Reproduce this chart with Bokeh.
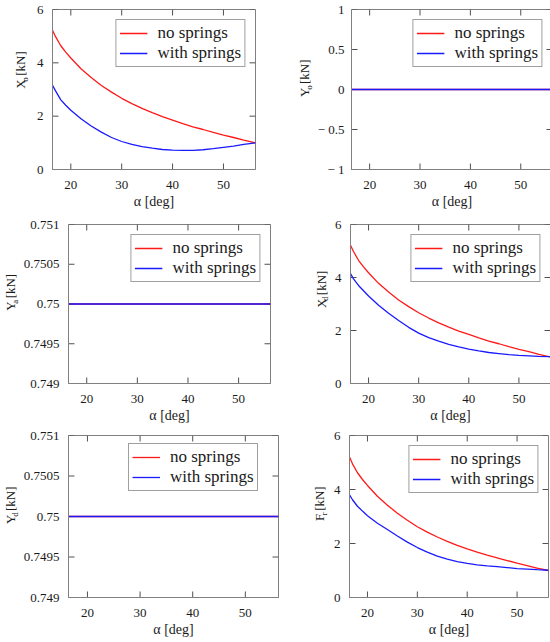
import math
from bokeh.plotting import figure
from bokeh.layouts import row, column
from bokeh.models import Range1d, FixedTicker, Label, Legend, LegendItem
from bokeh.embed import file_html
from bokeh.resources import INLINE

# ---------------- data ----------------
alpha = [16.4, 17, 18, 19, 20, 22, 24, 26, 28, 30, 32, 34, 36, 38, 40, 42, 44, 46, 48, 50, 52, 54, 56.3]
alpha_flat = [16.4, 56.3]

xo_no = [5.22, 4.98, 4.65, 4.40, 4.18, 3.78, 3.45, 3.15, 2.90, 2.67, 2.47, 2.29, 2.13, 1.98, 1.85, 1.72, 1.60, 1.50, 1.39, 1.29, 1.20, 1.10, 1.00]
xo_with = [3.16, 2.95, 2.62, 2.41, 2.22, 1.90, 1.63, 1.40, 1.20, 1.05, 0.94, 0.86, 0.80, 0.75, 0.73, 0.72, 0.72, 0.74, 0.78, 0.83, 0.88, 0.94, 1.00]

yo_no = [0.0, 0.0]
yo_with = [0.0, 0.0]

ya_no = [0.75, 0.75]
ya_with = [0.75, 0.75]

xd_no = [5.22, 4.98, 4.65, 4.40, 4.18, 3.78, 3.45, 3.15, 2.90, 2.67, 2.47, 2.29, 2.13, 1.98, 1.85, 1.72, 1.60, 1.50, 1.39, 1.29, 1.20, 1.10, 1.00]
xd_with = [4.15, 3.95, 3.70, 3.50, 3.30, 2.95, 2.65, 2.38, 2.12, 1.90, 1.73, 1.60, 1.48, 1.38, 1.30, 1.23, 1.17, 1.13, 1.09, 1.06, 1.04, 1.02, 1.01]

yd_no = [0.75, 0.75]
yd_with = [0.75, 0.75]

fr_no = [5.20, 4.95, 4.62, 4.37, 4.15, 3.75, 3.42, 3.12, 2.86, 2.62, 2.42, 2.24, 2.08, 1.93, 1.80, 1.68, 1.57, 1.47, 1.37, 1.27, 1.18, 1.09, 1.00]
fr_with = [3.80, 3.62, 3.38, 3.20, 3.03, 2.75, 2.52, 2.28, 2.05, 1.85, 1.68, 1.53, 1.42, 1.33, 1.26, 1.21, 1.17, 1.14, 1.11, 1.07, 1.05, 1.03, 1.01]

x_ticks = [20, 30, 40, 50]
force_ticks = [0, 2, 4, 6]
yo_ticks = [-1, -0.5, 0, 0.5, 1]
yo_tick_labels = ["\u2212 1", "\u2212 0.5", "0", "0.5", "1"]
ya_ticks = [0.749, 0.7495, 0.75, 0.7505, 0.751]
ya_tick_labels = ["0.749", "0.7495", "0.75", "0.7505", "0.751"]

series_names = ["no springs", "with springs"]
x_label = "\u03b1 [deg]"
unit_label = "[kN]"

# ---------------- style ----------------
FONT = "Liberation Serif"
GRAY = "#808080"
TICK = "#505050"
TXT = "#1a1a1a"
RED = "#ff1a1a"
BLUE = "#1a1aff"
X_RANGE = (16.4, 56.3)


def style_axis(ax, ticks, standoff):
    ax.ticker = FixedTicker(ticks=ticks)
    ax.axis_line_color = GRAY
    ax.major_tick_line_color = None
    ax.minor_tick_line_color = None
    ax.major_label_text_font = FONT
    ax.major_label_text_font_size = "13px"
    ax.major_label_text_color = TXT
    ax.major_label_standoff = standoff


def add_inner_ticks(p, yr, yticks):
    # short inward tick marks on all four frame edges (length in screen px)
    nx, ny = len(x_ticks), len(yticks)
    kw = dict(length=6, length_units="screen", line_color=TICK, line_width=1)
    p.ray(x=x_ticks, y=[yr[0]] * nx, angle=math.pi / 2, **kw)
    p.ray(x=x_ticks, y=[yr[1]] * nx, angle=-math.pi / 2, **kw)
    p.ray(x=[X_RANGE[0]] * ny, y=yticks, angle=0, **kw)
    p.ray(x=[X_RANGE[1]] * ny, y=yticks, angle=math.pi, **kw)


def label_fig(w, H, mid, center, main, sub):
    f = figure(width=w, height=H, x_range=Range1d(0, w), y_range=Range1d(0, H),
               min_border_left=0, min_border_right=0, min_border_top=0,
               min_border_bottom=0, x_axis_type=None, y_axis_type=None,
               output_backend="svg", toolbar_location=None)
    f.outline_line_color = None
    f.grid.visible = False
    f.background_fill_color = "white"
    f.border_fill_color = "white"
    wM = {"X": 9.4, "Y": 9.4, "F": 7.2}[main]
    ws = {"o": 4.5, "a": 4.0, "d": 4.5, "r": 3.0}[sub]
    wR = 1.89 * 13
    gap = 3.3
    L = wM + ws + gap + wR
    y0 = (H - center) - L / 2
    common = dict(angle=math.pi / 2, text_font=FONT, text_align="left",
                  text_baseline="middle", text_color=TXT)
    f.add_layout(Label(x=mid, y=y0, text=main, text_font_size="13px", **common))
    f.add_layout(Label(x=mid + 4, y=y0 + wM, text=sub, text_font_size="9px", **common))
    f.add_layout(Label(x=mid, y=y0 + wM + ws + gap, text=unit_label,
                       text_font_size="13px", **common))
    return f


def panel(xs, y_no, y_with, yr, yticks, ylabels, geom, ystand=3,
          legend_loc="top_right"):
    bl, fw, br, bt, fh, bb = geom
    p = figure(frame_width=fw, frame_height=fh,
               min_border_left=bl, min_border_right=br,
               min_border_top=bt, min_border_bottom=bb,
               x_range=Range1d(*X_RANGE), y_range=Range1d(*yr),
               output_backend="svg", toolbar_location=None)
    p.grid.visible = False
    p.outline_line_color = GRAY
    p.outline_line_width = 1
    p.background_fill_color = "white"
    p.border_fill_color = "white"

    style_axis(p.xaxis[0], x_ticks, 5)
    style_axis(p.yaxis[0], yticks, ystand)
    if ylabels is not None:
        p.yaxis[0].major_label_overrides = dict(zip(yticks, ylabels))
    p.xaxis[0].axis_label = x_label
    p.xaxis[0].axis_label_text_font = FONT
    p.xaxis[0].axis_label_text_font_size = "14px"
    p.xaxis[0].axis_label_text_font_style = "normal"
    p.xaxis[0].axis_label_text_color = TXT
    p.xaxis[0].axis_label_standoff = 2

    add_inner_ticks(p, yr, yticks)

    r1 = p.line(xs, y_no, line_color=RED, line_width=1.3)
    r2 = p.line(xs, y_with, line_color=BLUE, line_width=1.3)
    leg = Legend(items=[LegendItem(label=series_names[0], renderers=[r1]),
                        LegendItem(label=series_names[1], renderers=[r2])],
                 location=legend_loc, margin=10, padding=3, spacing=0,
                 glyph_width=28, glyph_height=20, label_height=20,
                 label_standoff=10, label_text_font=FONT,
                 label_text_font_size="17px", label_text_color=TXT,
                 border_line_color="#404040", border_line_width=1,
                 background_fill_color="white", background_fill_alpha=1)
    p.add_layout(leg)
    return p


# geometry: (border_left, frame_w, border_right, border_top, frame_h, border_bottom)
H1, H2, H3 = 214, 213, 214
l1 = label_fig(30, H1, 20, 85, "X", "o")
p1 = panel(alpha, xo_no, xo_with, (0, 6), force_ticks, None,
           (22, 203, 38, 9, 160, 45))
l2 = label_fig(21, H1, 11, 96, "Y", "o")
p2 = panel(alpha_flat, yo_no, yo_with, (-1, 1), yo_ticks, yo_tick_labels,
           (29, 201, 5, 9, 160, 45), ystand=1)

l3 = label_fig(20, H2, 10, 95, "Y", "a")
p3 = panel(alpha_flat, ya_no, ya_with, (0.749, 0.751), ya_ticks, ya_tick_labels,
           (40, 202, 36, 10, 159, 44))
l4 = label_fig(25, H2, 14.5, 91, "X", "d")
p4 = panel(alpha, xd_no, xd_with, (0, 6), force_ticks, None,
           (15, 200, 4, 10, 159, 44))

l5 = label_fig(20, H3, 10, 96, "Y", "d")
p5 = panel(alpha_flat, yd_no, yd_with, (0.749, 0.751), ya_ticks, ya_tick_labels,
           (42, 210, 26, 8, 162, 44), legend_loc=(60, 106))
l6 = label_fig(25, H3, 15, 94, "F", "r")
p6 = panel(alpha, fr_no, fr_with, (0, 6), force_ticks, None,
           (20, 199, 1, 8, 162, 44))

layout = column(row(l1, p1, l2, p2), row(l3, p3, l4, p4), row(l5, p5, l6, p6))

open("out.html", "w").write(file_html(layout, INLINE))
